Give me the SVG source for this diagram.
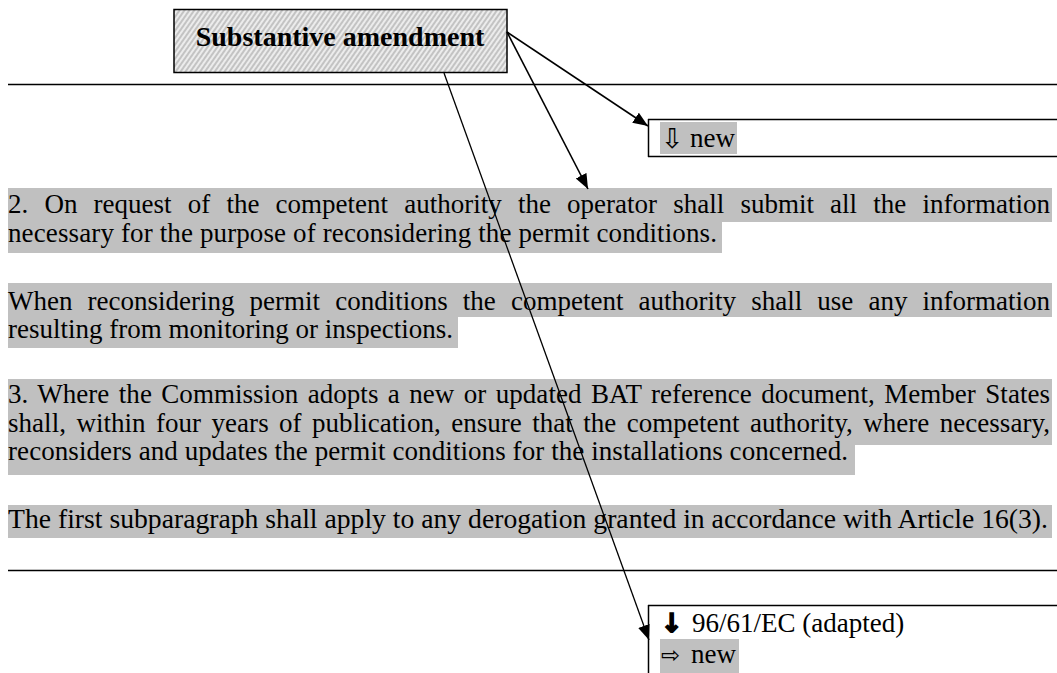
<svg xmlns="http://www.w3.org/2000/svg" width="1057" height="673" viewBox="0 0 1057 673">
<style>
.t{font-family:"Liberation Serif","Times New Roman",serif;font-size:27px;fill:#000}
.b{font-family:"Liberation Serif","Times New Roman",serif;font-size:28px;font-weight:bold;fill:#000}
.sym{font-family:"DejaVu Sans",sans-serif;fill:#000}
.hl{fill:#c0c0c0}
.rule{stroke:#000;stroke-width:1.5;fill:none}
.conn{stroke:#000;fill:none}
</style>
<defs>
<pattern id="hatch" width="4" height="4" patternUnits="userSpaceOnUse" patternTransform="rotate(35)">
<rect width="4" height="4" fill="#ececec"/>
<line x1="1" y1="0" x2="1" y2="4" stroke="#9a9a9a" stroke-width="1"/>
</pattern>
<marker id="ah" markerUnits="userSpaceOnUse" markerWidth="16" markerHeight="13" refX="15" refY="6" orient="auto">
<path d="M0,0 L15,6 L0,12 z" fill="#000"/>
</marker>
</defs>
<rect width="1057" height="673" fill="#fff"/>

<g id="rules">
<line class="rule" x1="8" y1="84.5" x2="1057" y2="84.5"/>
<line class="rule" x1="8" y1="570.5" x2="1057" y2="570.5"/>
</g>

<g id="amendment">
<rect x="174" y="9.5" width="333" height="63" fill="url(#hatch)" stroke="#000" stroke-width="1.5"/>
<text class="b" x="340" y="46" text-anchor="middle">Substantive amendment</text>
</g>

<g id="marker-new-top">
<line class="rule" x1="648" y1="119.5" x2="1057" y2="119.5"/>
<line class="rule" x1="648" y1="156.5" x2="1057" y2="156.5"/>
<line class="rule" x1="648.5" y1="119" x2="648.5" y2="157"/>
<rect class="hl" x="660" y="122" width="77" height="32"/>
<text class="sym" x="661" y="148" font-size="27">⇩</text>
<text class="t" x="690" y="147">new</text>
</g>

<g id="para2">
<rect class="hl" x="8" y="188" width="1044" height="34"/>
<rect class="hl" x="8" y="222" width="714" height="31"/>
<text class="t" x="8" y="213" word-spacing="9.4" textLength="1042" lengthAdjust="spacing">2. On request of the competent authority the operator shall submit all the information</text>
<text class="t" x="8" y="242" textLength="709" lengthAdjust="spacing">necessary for the purpose of reconsidering the permit conditions.</text>
</g>

<g id="para2b">
<rect class="hl" x="8" y="283" width="1044" height="34"/>
<rect class="hl" x="8" y="317" width="450" height="31"/>
<text class="t" x="8" y="310" word-spacing="8.4" textLength="1042" lengthAdjust="spacing">When reconsidering permit conditions the competent authority shall use any information</text>
<text class="t" x="8" y="338" textLength="445" lengthAdjust="spacing">resulting from monitoring or inspections.</text>
</g>

<g id="para3">
<rect class="hl" x="8" y="379" width="1044" height="66"/>
<rect class="hl" x="8" y="445" width="847" height="30"/>
<text class="t" x="8" y="403" word-spacing="2.6" textLength="1042" lengthAdjust="spacing">3. Where the Commission adopts a new or updated BAT reference document, Member States</text>
<text class="t" x="8" y="432" word-spacing="3.6" textLength="1042" lengthAdjust="spacing">shall, within four years of publication, ensure that the competent authority, where necessary,</text>
<text class="t" x="8" y="460" textLength="840" lengthAdjust="spacing">reconsiders and updates the permit conditions for the installations concerned.</text>
</g>

<g id="para3b">
<rect class="hl" x="8" y="505" width="1044" height="33"/>
<text class="t" x="8" y="528" font-size="28" textLength="1040" lengthAdjust="spacingAndGlyphs">The first subparagraph shall apply to any derogation granted in accordance with Article 16(3).</text>
</g>

<g id="marker-bottom">
<line class="rule" x1="648" y1="605.5" x2="1057" y2="605.5"/>
<line class="rule" x1="648.5" y1="605" x2="648.5" y2="673"/>
<text class="sym" x="661" y="632" font-size="26" font-weight="bold" stroke="#000" stroke-width="1.6">↓</text>
<text class="t" x="692" y="632">96/61/EC (adapted)</text>
<rect class="hl" x="660" y="639" width="79" height="34"/>
<text class="sym" x="661" y="663" font-size="23">⇨</text>
<text class="t" x="691" y="663">new</text>
</g>

<g id="connectors">
<line class="conn" stroke-width="1.6" x1="507" y1="32" x2="648" y2="126" marker-end="url(#ah)"/>
<line class="conn" stroke-width="1.6" x1="507" y1="32" x2="588" y2="189" marker-end="url(#ah)"/>
<line class="conn" stroke-width="1.3" x1="444" y1="73" x2="649" y2="640" marker-end="url(#ah)"/>
</g>
</svg>
